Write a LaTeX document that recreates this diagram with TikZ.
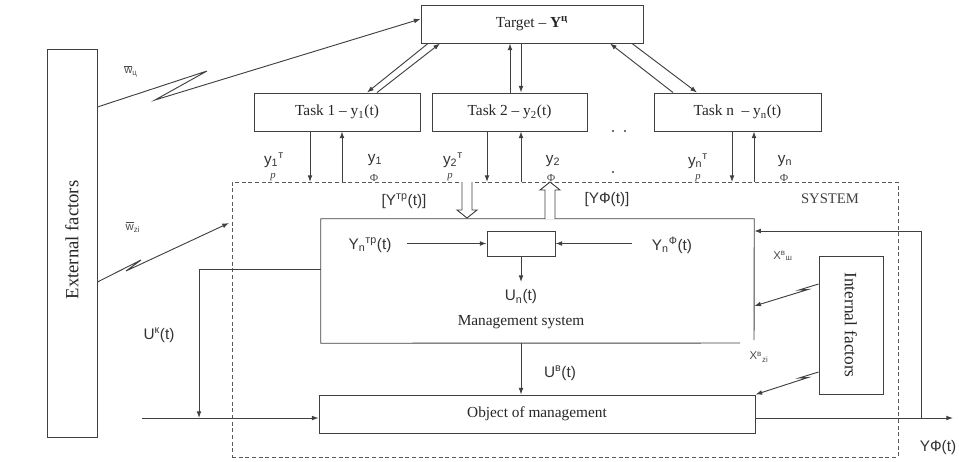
\documentclass[tikz,border=0pt]{standalone}
\usepackage{fontspec}
\setmainfont{Liberation Serif}
\setsansfont{Liberation Sans}
\usetikzlibrary{arrows.meta}
\newcommand{\sbt}[1]{\textsubscript{#1}}
\newcommand{\spt}[1]{\textsuperscript{#1}}
\begin{document}
\begin{tikzpicture}[x=0.75pt,y=-0.75pt,
  ln/.style={line width=0.7pt, draw=black!75},
  arr/.style={ln, -{Latex[length=5pt,width=3.6pt]}},
  box/.style={draw=black!75, line width=0.7pt, rectangle, inner sep=0pt,
    font=\fontsize{11.5}{13}\selectfont, text=black!85},
  lab/.style={font=\sffamily\fontsize{11.5}{13}\selectfont, inner sep=0pt, text=black!80},
  slab/.style={font=\sffamily\fontsize{8.5}{10}\selectfont, inner sep=0pt, text=black!70},
  tiny/.style={font=\fontsize{8}{9}\selectfont, inner sep=0pt, text=black!75},
  hollow/.style={line width=0.7pt, draw=black!75, fill=white},
  sysbox/.style={draw=black!65, line width=0.6pt, dash pattern=on 3pt off 2pt, rectangle, inner sep=0pt}
]
\useasboundingbox (0,0) rectangle (959,461);

% system frame
\node[sysbox, minimum width=499.5pt, minimum height=206.25pt] (sys) at (565,319.5) {};

% boxes
\node[box, minimum width=37.5pt, minimum height=291pt] (ext) at (72,243) {};
\node[rotate=90, font=\fontsize{14}{16}\selectfont, text=black!85] (extt) at (72,240) {External factors};
\node[box, minimum width=166.5pt, minimum height=28.5pt] (target) at (532,24) {Target -- \textbf{Y\spt{ц}}};
\node[box, minimum width=124.5pt, minimum height=28.5pt] (task1) at (337,112) {Task 1 -- y\sbt{1}(t)};
\node[box, minimum width=116.25pt, minimum height=28.5pt] (task2) at (509.5,112) {Task 2 -- y\sbt{2}(t)};
\node[box, minimum width=125.25pt, minimum height=28.5pt] (taskn) at (737.5,112) {Task n \ -- y\sbt{n}(t)};
\node[minimum width=324.75pt, minimum height=93pt, inner sep=0pt] (mgmt) at (537.5,281) {};
\draw[ln] (740,343) -- (mgmt.south west) -- (mgmt.north west) -- (mgmt.north east) -- (754,340);
\node[box, minimum width=51pt, minimum height=18.75pt] (comp) at (521,243.5) {};
\node[box, minimum width=327pt, minimum height=28.5pt] (obj) at (537,414) {Object of management};
\node[box, minimum width=48pt, minimum height=103.5pt] (int) at (851,325) {};
\node[rotate=-90, font=\fontsize{13}{15}\selectfont, text=black!85] (intt) at (851,325) {Internal factors};

% target <-> tasks
\draw[arr] (target.south -| 428,0) -- (task1.north -| 367,0);
\draw[arr] (task1.north -| 377,0) -- (target.south -| 440,0);
\draw[arr] (task2.north -| 510,0) -- (target.south -| 510,0);
\draw[arr] (target.south -| 521,0) -- (task2.north -| 521,0);
\draw[arr] (taskn.north -| 673,0) -- (target.south -| 610,0);
\draw[arr] (target.south -| 632,0) -- (taskn.north -| 697,0);

% tasks <-> system
\coordinate (s1d) at (310,182); \coordinate (s1u) at (342,182);
\coordinate (s2d) at (487,182); \coordinate (s2u) at (521,182);
\coordinate (snd) at (732,182); \coordinate (snu) at (754,182);
\draw[arr] (task1.south -| s1d) -- (s1d);
\draw[arr] (s1u) -- (task1.south -| s1u);
\draw[arr] (task2.south -| s2d) -- (s2d);
\draw[arr] (s2u) -- (task2.south -| s2u);
\draw[arr] (taskn.south -| snd) -- (snd);
\draw[arr] (snu) -- (taskn.south -| snu);

% task labels
\node[lab] (l1t) at (274,160) {y\sbt{1}\spt{т}};
\node[tiny, font=\itshape\fontsize{8}{9}\selectfont] (l1p) at (273,177) {р};
\node[lab] (l1f) at (375,160) {y\sbt{1}};
\node[tiny] (l1ff) at (374,178) {Ф};
\node[lab] (l2t) at (453,160) {y\sbt{2}\spt{т}};
\node[tiny, font=\itshape\fontsize{8}{9}\selectfont] (l2p) at (450,177) {р};
\node[lab] (l2f) at (553,161) {y\sbt{2}};
\node[tiny] (l2ff) at (551,178) {Ф};
\node[lab] (lnt) at (698,161) {y\sbt{n}\spt{т}};
\node[tiny, font=\itshape\fontsize{8}{9}\selectfont] (lnp) at (698,178) {р};
\node[lab] (lnf) at (785,161) {y\sbt{n}};
\node[tiny] (lnff) at (784,178) {Ф};

% dots
\fill[black!75] (613,131) circle (1.2) (625,131) circle (1.2) (613,172) circle (1.2);

% hollow arrows
\draw[hollow] (462,182) -- (462,210) -- (457,210) -- (467,218) -- (477,210) -- (472,210) -- (472,182);
\draw[hollow] (545,219) -- (545,190) -- (540,190) -- (550,182) -- (560,190) -- (555,190) -- (555,219);
\node[lab] (ytrl) at (404,201) {[Y\spt{тр}(t)]};
\node[lab] (yfl) at (607,200) {[YФ(t)]};
\node[font=\fontsize{11}{13}\selectfont, text=black!75] (systl) at (830,199) {SYSTEM};

% comparator
\node[lab] (ytr) at (370,245) {Y\sbt{n}\spt{тр}(t)};
\node[lab] (yf) at (672,245) {Y\sbt{n}\spt{Ф}(t)};
\coordinate (ca) at (407,243.5); \coordinate (cb) at (632,243.5);
\draw[arr] (ca) -- (comp.west);
\draw[arr] (cb) -- (comp.east);
\coordinate (un) at (521,282);
\draw[arr] (comp.south) -- (un);
\node[lab] (unl) at (521,297) {U\sbt{n}(t)};
\node[font=\fontsize{11.5}{13}\selectfont, text=black!85] (msl) at (521,322) {Management system};

% management -> object
\draw[arr] (mgmt.south -| 521,0) -- (obj.north -| 521,0);
\node[lab] (uvl) at (560,373) {U\spt{в}(t)};

% input and feedback U^k
\coordinate (in) at (142,418);
\coordinate (uk) at (199,418);
\draw[arr] (in) -- (obj.west |- in);
\draw[arr] (mgmt.west |- 0,269) -| (uk);
\node[lab] (ukl) at (159,335) {U\spt{к}(t)};

% output and feedback
\coordinate (out) at (953,418);
\coordinate (fb) at (921,418);
\draw[arr] (obj.east |- out) -- (out);
\draw[arr] (fb) |- (mgmt.east |- 0,231);
\node[lab] (yfo) at (938,448) {YФ(t)};

% external factor influences
\draw[arr] (ext.east |- 0,107) -- (207,71) -- (155,100) -- (target.west |- 0,19);
\node[slab] (w1) at (131,71) {$\overline{\mbox{w}}$\sbt{ц}};
\coordinate (xe) at (229,223);
\draw[arr] (ext.east |- 0,282) -- (141,260) -- (126,271) -- (xe);
\node[slab] (w2) at (133,227) {$\overline{\mbox{w}}$\sbt{zi}};

% internal factor influences
\draw[arr] (int.west |- 0,284) -- (799,290) -- (808,289.5) -- (mgmt.east |- 0,306);
\node[slab] (x1) at (783,256) {X\spt{в}\sbt{ш}};
\draw[arr] (int.west |- 0,372) -- (799,378) -- (808,377.5) -- (obj.north east);
\node[slab] (x2) at (759,357) {X\spt{в}\sbt{zi}};
\end{tikzpicture}
\end{document}
